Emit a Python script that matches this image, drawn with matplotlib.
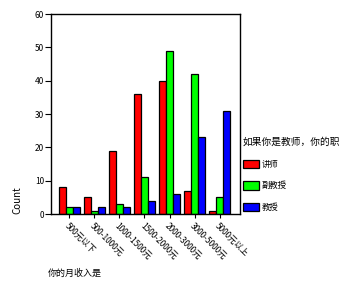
import numpy as np
import matplotlib.pyplot as plt

plt.rcParams['font.family'] = ['Noto Sans CJK SC', 'DejaVu Sans']

# income groups and counts per title
categories = ['500元以下', '500-1000元', '1000-1500元', '1500-2000元',
              '2000-3000元', '3000-5000元', '5000元以上']
series_names = ['讲师', '副教授', '教授']
lecturer = [8, 5, 19, 36, 40, 7, 1]
assoc_prof = [2, 1, 3, 11, 49, 42, 5]
professor = [2, 2, 2, 4, 6, 23, 31]
colors = ['#ff0000', '#00ff00', '#0000ff']

fig = plt.figure(figsize=(3.59, 2.87), dpi=100)
ax = fig.add_axes([51/359, 1-214/287, 189/359, 200/287])

x = np.arange(len(categories))
w = 0.28
for i, (vals, name) in enumerate(zip([lecturer, assoc_prof, professor], series_names)):
    ax.bar(x + (i - 1) * w, vals, w, color=colors[i], edgecolor='black',
           linewidth=0.9, label=name)

ax.set_xlim(-0.72, 6.8)
ax.set_ylim(0, 60)
ax.set_yticks(range(0, 61, 10))
ax.tick_params(axis='y', labelsize=6, length=4, width=0.8, pad=1)
ax.tick_params(axis='x', labelsize=6, length=3, width=0.8, pad=2)
ax.set_xticks(x)
ax.set_xticklabels(categories, rotation=-45, ha='left', va='top',
                   rotation_mode='anchor')
for s in ax.spines.values():
    s.set_linewidth(1.0)

ax.set_ylabel('Count', fontsize=7)
ax.yaxis.set_label_coords(-0.15, 0.07)

fig.text(48/359, 1-273/287, '你的月收入是', fontsize=6.5, va='center', ha='left')

leg = ax.legend(loc='upper left', bbox_to_anchor=(243/359, 1-137/287),
                bbox_transform=fig.transFigure, frameon=False,
                title='如果你是教师，你的职', fontsize=6, title_fontsize=7,
                handlelength=1.9, handleheight=1.2, labelspacing=1.5,
                handletextpad=0.35, borderaxespad=0, borderpad=0)
leg._legend_box.align = 'left'
for p in leg.get_patches():
    p.set_linewidth(0.9)

fig.savefig('out.png', dpi=100)
